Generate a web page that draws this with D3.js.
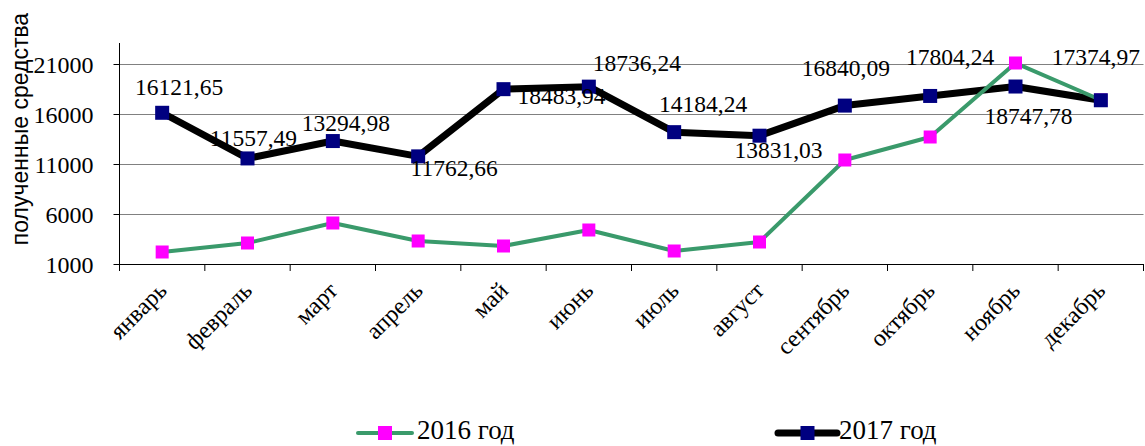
<!DOCTYPE html>
<html>
<head>
<meta charset="utf-8">
<script src="https://cdn.jsdelivr.net/npm/d3@7"></script>
<style>
  html, body { margin: 0; padding: 0; background: #fff; }
  svg { display: block; }
  .serif { font-family: "Liberation Serif", "Times New Roman", serif; fill: #000; }
</style>
</head>
<body>
<svg id="chart" width="1145" height="446"></svg>
<script>
const months = ["январь", "февраль", "март", "апрель", "май", "июнь", "июль", "август", "сентябрь", "октябрь", "ноябрь", "декабрь"];
const values2016 = [2200, 3100, 5100, 3300, 2800, 4400, 2300, 3200, 11400, 13700, 21100, 17400];
const values2017 = [16121.65, 11557.49, 13294.98, 11762.66, 18483.94, 18736.24, 14184.24, 13831.03, 16840.09, 17804.24, 18747.78, 17374.97];
const yTicks = [1000, 6000, 11000, 16000, 21000];
const seriesNames = ["2016 год", "2017 год"];

// hand-placed label offsets (text centre / baseline relative to the point)
const labelOffset = [[17, -18], [6, -12], [13, -10], [36, 20], [58, 15], [48, -16],
  [29, -20], [19, 22], [1, -30], [20, -31], [13, 37], [-5, -35]];

const svg = d3.select("#chart");
const plotLeft = 119.5, plotRight = 1143.5, plotTop = 43, plotBottom = 264;

const x = d3.scaleBand().domain(months).range([plotLeft, plotRight]).padding(0);
const y = d3.scaleLinear().domain([1000, 23100]).range([plotBottom, plotTop]);
const cx = (m) => x(m) + x.bandwidth() / 2;

// gridlines
svg.append("g")
  .selectAll("line")
  .data(yTicks.filter((t) => t !== 1000))
  .join("line")
  .attr("x1", plotLeft).attr("x2", plotRight)
  .attr("y1", (d) => Math.round(y(d)) + 0.5).attr("y2", (d) => Math.round(y(d)) + 0.5)
  .attr("stroke", "#808080").attr("stroke-width", 1);

// y axis
const yAxis = svg.append("g")
  .attr("transform", `translate(${plotLeft},0)`)
  .call(d3.axisLeft(y).tickValues(yTicks).tickSize(6).tickPadding(20).tickFormat(d3.format("d")));
yAxis.select(".domain").attr("d", `M-0,${plotTop}V${plotBottom}`).attr("stroke", "#000");
yAxis.selectAll(".tick line").attr("stroke", "#000");
yAxis.selectAll(".tick text")
  .attr("class", "serif")
  .attr("font-size", 24)
  .attr("dy", "0.36em");

// x axis
svg.append("line")
  .attr("x1", plotLeft).attr("x2", plotRight).attr("y1", plotBottom + 0.5).attr("y2", plotBottom + 0.5)
  .attr("stroke", "#000");
svg.append("g")
  .selectAll("line")
  .data(d3.range(months.length + 1))
  .join("line")
  .attr("x1", (i) => plotLeft + i * x.bandwidth()).attr("x2", (i) => plotLeft + i * x.bandwidth())
  .attr("y1", plotBottom).attr("y2", plotBottom + 7)
  .attr("stroke", "#000");
svg.append("g")
  .selectAll("text")
  .data(months)
  .join("text")
  .attr("class", "serif")
  .attr("font-size", 24)
  .attr("text-anchor", "end")
  .attr("transform", (d) => `translate(${cx(d) + 6},${plotBottom + 28}) rotate(-45)`)
  .text((d) => d);

// y title
svg.append("text")
  .attr("transform", "translate(28,129) rotate(-90)")
  .attr("text-anchor", "middle")
  .attr("font-family", "Liberation Sans, Arial, sans-serif")
  .attr("font-size", 23)
  .text("полученные средства");

// lines
const line = (vals) => d3.line().x((d, i) => cx(months[i])).y((d) => y(d))(vals);
svg.append("path").attr("d", line(values2017)).attr("fill", "none")
  .attr("stroke", "#000").attr("stroke-width", 7).attr("stroke-linejoin", "round");
svg.append("path").attr("d", line(values2016)).attr("fill", "none")
  .attr("stroke", "#3a9a6b").attr("stroke-width", 4).attr("stroke-linejoin", "round");

// markers
function markers(vals, size, color) {
  svg.append("g")
    .selectAll("rect")
    .data(vals)
    .join("rect")
    .attr("x", (d, i) => cx(months[i]) - size / 2)
    .attr("y", (d) => y(d) - size / 2)
    .attr("width", size).attr("height", size)
    .attr("fill", color);
}
markers(values2016, 13, "#ff00ff");
markers(values2017, 14, "#000080");

// data labels for 2017
svg.append("g")
  .selectAll("text")
  .data(values2017)
  .join("text")
  .attr("class", "serif")
  .attr("font-size", 23.5)
  .attr("text-anchor", "middle")
  .attr("x", (d, i) => cx(months[i]) + labelOffset[i][0])
  .attr("y", (d, i) => y(d) + labelOffset[i][1])
  .text((d) => d3.format(".2f")(d).replace(".", ","));

// legend
const legend = [
  { name: seriesNames[0], x1: 358, x2: 412, color: "#3a9a6b", width: 4, marker: "#ff00ff", tx: 417 },
  { name: seriesNames[1], x1: 778, x2: 837, color: "#000", width: 7, marker: "#000080", tx: 839 }
];
const lg = svg.append("g").selectAll("g").data(legend).join("g");
lg.append("line")
  .attr("x1", (d) => d.x1).attr("x2", (d) => d.x2).attr("y1", 433).attr("y2", 433)
  .attr("stroke", (d) => d.color).attr("stroke-width", (d) => d.width).attr("stroke-linecap", "round");
lg.append("rect")
  .attr("x", (d) => (d.x1 + d.x2) / 2 - 7).attr("y", 426)
  .attr("width", 14).attr("height", 14)
  .attr("fill", (d) => d.marker);
lg.append("text")
  .attr("class", "serif")
  .attr("font-size", 27)
  .attr("x", (d) => d.tx).attr("y", 439)
  .text((d) => d.name);
</script>
</body>
</html>
